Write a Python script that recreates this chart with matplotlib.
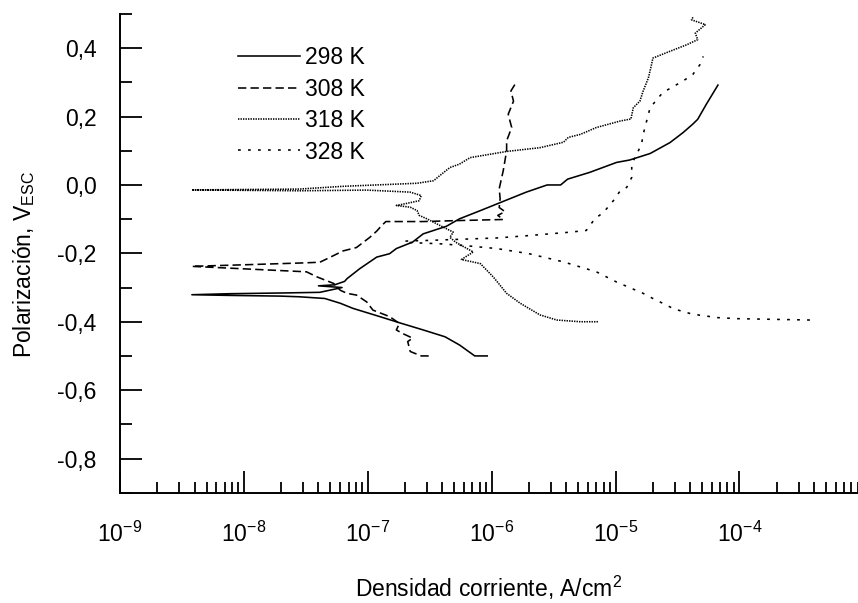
import numpy as np
import matplotlib
matplotlib.use("Agg")
import matplotlib.pyplot as plt
from matplotlib.ticker import LogLocator, FixedLocator, FuncFormatter, NullFormatter

plt.rcParams['font.family'] = ['Liberation Sans', 'DejaVu Sans']
plt.rcParams['mathtext.fontset'] = 'custom'
plt.rcParams['mathtext.rm'] = 'Liberation Sans'
plt.rcParams['mathtext.it'] = 'Liberation Sans:italic'
plt.rcParams['mathtext.bf'] = 'Liberation Sans:bold'
plt.rcParams['mathtext.default'] = 'regular'
plt.rcParams['lines.scale_dashes'] = False

# Tafel polarization curves: current density (A/cm2) vs potential (V vs SCE),
# each traced from the cathodic end through E_corr to the anodic end.
i_298 = [9.2e-7, 7.3e-7, 5.5e-7, 4.2e-7, 2.8e-7, 1.8e-7, 1.25e-7, 7.6e-8, 6.0e-8,
         4.5e-8, 2.8e-8, 1.95e-8, 7.7e-9, 3.8e-9, 7.7e-9, 1.95e-8, 4.1e-8, 6.2e-8,
         4.0e-8, 5.4e-8, 6.5e-8, 6.8e-8, 8.6e-8, 1.18e-7, 1.5e-7, 1.7e-7, 2.3e-7,
         2.8e-7, 3.4e-7, 4.3e-7, 5.5e-7, 8.1e-7, 1.24e-6, 1.9e-6, 2.8e-6, 3.6e-6,
         4.1e-6, 6.2e-6, 1.02e-5, 1.3e-5, 1.9e-5, 2.75e-5, 3.5e-5, 4.2e-5, 4.6e-5,
         5.4e-5, 6.7e-5]
e_298 = [-0.500, -0.500, -0.468, -0.444, -0.424, -0.403, -0.385, -0.361, -0.346,
         -0.332, -0.327, -0.325, -0.323, -0.321, -0.318, -0.316, -0.314, -0.300,
         -0.295, -0.292, -0.282, -0.274, -0.245, -0.211, -0.201, -0.186, -0.167,
         -0.143, -0.133, -0.121, -0.099, -0.075, -0.048, -0.021, 0.000, 0.000,
         0.017, 0.037, 0.066, 0.073, 0.092, 0.124, 0.153, 0.178, 0.192,
         0.236, 0.292]

i_308 = [3.1e-7, 2.7e-7, 2.2e-7, 2.1e-7, 2.3e-7, 1.9e-7, 1.7e-7, 1.8e-7, 1.5e-7,
         1.1e-7, 9.8e-8, 8.1e-8, 6.8e-8, 6.0e-8, 5.3e-8, 3.9e-8, 3.2e-8, 1.1e-8,
         3.8e-9, 1.1e-8, 3.0e-8, 4.1e-8, 5.0e-8, 6.3e-8, 8.1e-8, 1.04e-7, 1.18e-7,
         1.3e-7, 1.4e-7, 2.8e-7, 5.5e-7, 1.24e-6, 1.12e-6, 1.28e-6, 1.15e-6, 1.17e-6,
         1.15e-6, 1.24e-6, 1.32e-6, 1.32e-6, 1.45e-6, 1.36e-6, 1.5e-6, 1.43e-6, 1.54e-6]
e_308 = [-0.500, -0.500, -0.487, -0.458, -0.448, -0.434, -0.424, -0.405, -0.385,
         -0.366, -0.342, -0.322, -0.317, -0.308, -0.288, -0.269, -0.254, -0.246,
         -0.238, -0.233, -0.228, -0.226, -0.211, -0.193, -0.183, -0.153, -0.135,
         -0.118, -0.107, -0.107, -0.104, -0.101, -0.089, -0.078, -0.066, -0.040,
         -0.011, 0.042, 0.100, 0.129, 0.168, 0.207, 0.245, 0.275, 0.294]

i_318 = [7.2e-6, 5.2e-6, 3.35e-6, 2.45e-6, 1.7e-6, 1.32e-6, 1.03e-6, 8.1e-7, 5.7e-7,
         7.1e-7, 5.7e-7, 5.1e-7, 4.6e-7, 4.9e-7, 3.8e-7, 3.0e-7, 2.6e-7, 2.5e-7,
         2.2e-7, 1.7e-7, 2.06e-7, 2.6e-7, 2.7e-7, 2.2e-7, 9.8e-8, 2.8e-8, 3.8e-9,
         2.8e-8, 6.3e-8, 2.5e-7, 3.4e-7, 3.8e-7, 4.6e-7, 5.5e-7, 6.7e-7, 1.32e-6,
         2.45e-6, 3.8e-6, 4.15e-6, 5.2e-6, 7.0e-6, 1.09e-5, 1.33e-5, 1.39e-5, 1.57e-5,
         1.67e-5, 1.84e-5, 1.95e-5, 2.0e-5, 2.75e-5, 3.75e-5, 4.6e-5, 4.4e-5, 5.3e-5,
         4.1e-5, 4.25e-5]
e_318 = [-0.400, -0.400, -0.395, -0.380, -0.346, -0.317, -0.269, -0.230, -0.218,
         -0.196, -0.177, -0.167, -0.153, -0.138, -0.118, -0.099, -0.089, -0.075,
         -0.065, -0.060, -0.054, -0.046, -0.031, -0.021, -0.015, -0.017, -0.0145,
         -0.012, -0.004, 0.005, 0.0125, 0.027, 0.051, 0.061, 0.080, 0.098,
         0.109, 0.125, 0.139, 0.148, 0.168, 0.187, 0.193, 0.226, 0.245,
         0.275, 0.313, 0.352, 0.371, 0.391, 0.410, 0.425, 0.444, 0.469,
         0.483, 0.493]

i_328 = [3.7e-4, 9.5e-5, 6.7e-5, 4.8e-5, 4.0e-5, 3.4e-5, 2.9e-5, 2.4e-5, 2.0e-5,
         1.67e-5, 1.02e-5, 7.0e-6, 3.8e-6, 2.0e-6, 1.1e-6, 5.9e-7, 3.8e-7, 2.06e-7,
         1.96e-7, 2.06e-7, 3.2e-7, 1.1e-6, 2.0e-6, 4.3e-6, 5.8e-6, 6.8e-6, 8.0e-6,
         9.6e-6, 1.09e-5, 1.23e-5, 1.35e-5, 1.35e-5, 1.48e-5, 1.62e-5, 1.67e-5, 1.9e-5,
         2.4e-5, 3.5e-5, 4.2e-5, 4.8e-5, 5.1e-5]
e_328 = [-0.395, -0.391, -0.388, -0.381, -0.376, -0.369, -0.361, -0.346, -0.332,
         -0.317, -0.284, -0.254, -0.225, -0.201, -0.186, -0.177, -0.172, -0.168,
         -0.165, -0.164, -0.162, -0.155, -0.148, -0.138, -0.133, -0.099, -0.080,
         -0.046, -0.017, -0.007, 0.022, 0.061, 0.090, 0.119, 0.148, 0.226,
         0.270, 0.304, 0.323, 0.352, 0.376]

labels = ['298 K', '308 K', '318 K', '328 K']

FS = 16.5
W, H = 858, 603
fig = plt.figure(figsize=(W / 100, H / 100), dpi=100)
left, right, top, bottom = 120, 857.7, 14, 492.7
ax = fig.add_axes([left / W, 1 - bottom / H, (right - left) / W, (bottom - top) / H])

lw = 1.15
ax.plot(i_298, e_298, color='black', lw=lw, linestyle='-', label=labels[0])
ax.plot(i_308, e_308, color='black', lw=lw, linestyle=(0, (6, 3)), label=labels[1])
ax.plot(i_318, e_318, color='black', lw=lw, linestyle=(0, (1.0, 0.8)), label=labels[2])
ax.plot(i_328, e_328, color='black', lw=lw, linestyle=(0, (2, 5.2)), label=labels[3])

ax.set_xscale('log')
ax.set_xlim(1e-9, 9e-4)
ax.set_ylim(-0.9, 0.5)

ax.xaxis.set_major_locator(FixedLocator([1e-9, 1e-8, 1e-7, 1e-6, 1e-5, 1e-4]))
ax.xaxis.set_minor_locator(LogLocator(base=10, subs=np.arange(2, 10), numticks=20))
ax.xaxis.set_major_formatter(FuncFormatter(lambda v, p: r'$10^{%d}$' % int(round(np.log10(v)))))
ax.xaxis.set_minor_formatter(NullFormatter())

ax.yaxis.set_major_locator(FixedLocator([-0.8, -0.6, -0.4, -0.2, 0.0, 0.2, 0.4]))
ax.yaxis.set_minor_locator(FixedLocator([-0.9, -0.7, -0.5, -0.3, -0.1, 0.1, 0.3, 0.5]))


def comma_fmt(v, pos):
    s = f"{v:.1f}"
    if s == "-0.0":
        s = "0.0"
    return s.replace('.', ',')


ax.yaxis.set_major_formatter(FuncFormatter(comma_fmt))

for s in ('top', 'right'):
    ax.spines[s].set_visible(False)
for s in ('left', 'bottom'):
    ax.spines[s].set_linewidth(1.4)

ax.tick_params(axis='x', which='major', direction='in', length=15.8, width=1.3,
               labelsize=FS, pad=21)
ax.tick_params(axis='x', which='minor', direction='in', length=7.9, width=1.3)
ax.tick_params(axis='y', which='major', direction='in', length=15.8, width=1.3,
               labelsize=FS, pad=16.8)
ax.tick_params(axis='y', which='minor', direction='in', length=8.6, width=1.3)

ax.set_xlabel('Densidad corriente, A/cm$^2$', fontsize=FS, va='center')
ax.xaxis.set_label_coords(0.5, -0.199)
ax.set_ylabel('Polarización, V$_{ESC}$', fontsize=FS, va='center')
ax.yaxis.set_label_coords(-0.130, 0.476)

ax.legend(loc='upper left', bbox_to_anchor=(0.1596, 0.933), frameon=False,
          handlelength=2.7, handletextpad=0.22, labelspacing=0.37,
          borderpad=0, borderaxespad=0, fontsize=FS)

fig.savefig('out.png', dpi=100)
